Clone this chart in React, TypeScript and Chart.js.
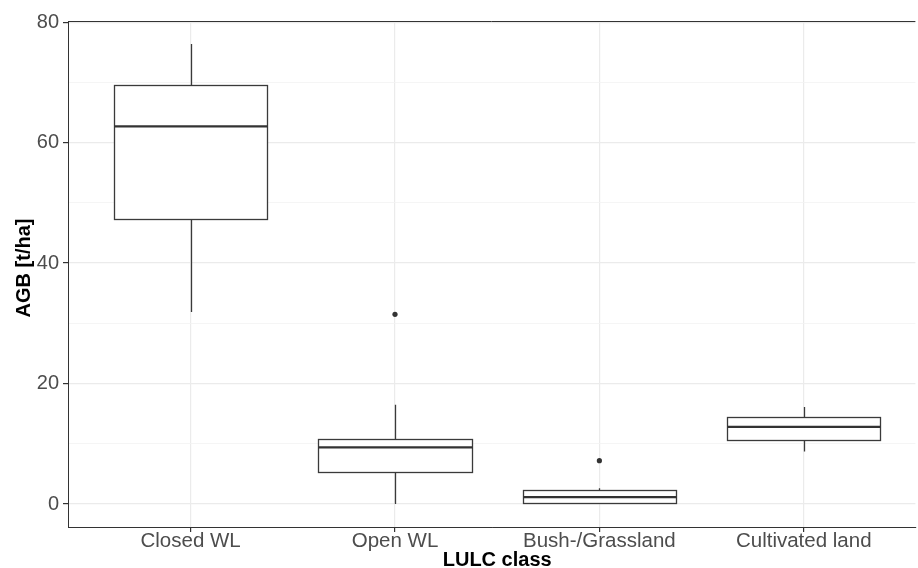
import React, { useEffect, useRef } from "react";
import { Chart, registerables } from "chart.js";

Chart.register(...registerables);

const categories = ["Closed WL", "Open WL", "Bush-/Grassland", "Cultivated land"];
const whiskerLow = [31.9, 0.0, 0.0, 8.7];
const q1 = [47.3, 5.3, 0.15, 10.7];
const median = [62.7, 9.4, 1.15, 12.8];
const q3 = [69.6, 10.8, 2.4, 14.5];
const whiskerHigh = [76.4, 16.5, 2.6, 16.1];
const outlierCategory = [2, 3];
const outlierValue = [31.5, 7.2];
const yTickValues = [0, 10, 20, 30, 40, 50, 60, 70, 80];
const yMajorTicks = [0, 20, 40, 60, 80];
const xTitle = "LULC class";
const yTitle = "AGB [t/ha]";

const FONT = "'Liberation Sans', Arial, Helvetica, sans-serif";
const INK = "#333333";

const boxPlugin = {
  id: "boxes",
  beforeDatasetsDraw(chart: any) {
    const { ctx, scales } = chart;
    const x = scales.x;
    const y = scales.y;
    const half = 0.375;
    ctx.save();
    categories.forEach((_, i) => {
      const c = i + 1;
      const xl = Math.round(x.getPixelForValue(c - half)) + 0.5;
      const xr = Math.round(x.getPixelForValue(c + half)) + 0.5;
      const xc = Math.round(x.getPixelForValue(c)) + 0.5;
      const yLo = y.getPixelForValue(whiskerLow[i]);
      const yQ1 = Math.round(y.getPixelForValue(q1[i])) + 0.5;
      const yMed = y.getPixelForValue(median[i]);
      const yQ3 = Math.round(y.getPixelForValue(q3[i])) + 0.5;
      const yHi = y.getPixelForValue(whiskerHigh[i]);
      ctx.strokeStyle = "#3a3a3a";
      ctx.lineWidth = 1.3;
      ctx.beginPath();
      ctx.moveTo(xc, yHi);
      ctx.lineTo(xc, yQ3);
      ctx.moveTo(xc, yQ1);
      ctx.lineTo(xc, yLo);
      ctx.stroke();
      ctx.fillStyle = "#ffffff";
      ctx.fillRect(xl, yQ3, xr - xl, yQ1 - yQ3);
      ctx.strokeRect(xl, yQ3, xr - xl, yQ1 - yQ3);
      ctx.strokeStyle = INK;
      ctx.lineWidth = 2.3;
      ctx.beginPath();
      ctx.moveTo(xl, yMed);
      ctx.lineTo(xr, yMed);
      ctx.stroke();
    });
    ctx.restore();
  },
  afterDraw(chart: any) {
    const { ctx, chartArea, scales } = chart;
    ctx.save();
    ctx.strokeStyle = INK;
    ctx.lineWidth = 1;
    ctx.beginPath();
    ctx.moveTo(chartArea.left, Math.round(chartArea.top) + 0.5);
    ctx.lineTo(chartArea.right, Math.round(chartArea.top) + 0.5);
    ctx.stroke();
    ctx.fillStyle = "#000000";
    ctx.font = `bold 20px ${FONT}`;
    ctx.textAlign = "center";
    ctx.textBaseline = "alphabetic";
    const cx = scales.x.getPixelForValue(2.5);
    ctx.fillText(xTitle, cx, 566);
    ctx.translate(30, (chartArea.top + chartArea.bottom) / 2 - 6);
    ctx.rotate(-Math.PI / 2);
    ctx.fillText(yTitle, 0, 0);
    ctx.restore();
  },
};

export default function App() {
  const ref = useRef<HTMLCanvasElement | null>(null);
  useEffect(() => {
    if (!ref.current) return;
    const chart = new Chart(ref.current, {
      type: "scatter",
      data: {
        datasets: [
          {
            data: outlierCategory.map((c, i) => ({ x: c, y: outlierValue[i] })),
            pointRadius: 2.6,
            pointBackgroundColor: INK,
            pointBorderWidth: 0,
            pointHoverRadius: 2.6,
          },
        ],
      },
      options: {
        animation: false,
        responsive: false,
        maintainAspectRatio: false,
        layout: { padding: { top: 21, left: 0, right: 0, bottom: 0 } },
        plugins: { legend: { display: false }, tooltip: { enabled: false } },
        scales: {
          x: {
            type: "linear",
            min: 0.4,
            max: 0.4 + 850 / 205,
            afterBuildTicks: (s: any) => {
              s.ticks = categories.map((_, i) => ({ value: i + 1 }));
            },
            afterFit: (s: any) => {
              s.height = 41;
            },
            ticks: {
              autoSkip: false,
              maxRotation: 0,
              padding: -3,
              color: "#4d4d4d",
              font: { family: FONT, size: 20.5 },
              callback: (v: any) => categories[Math.round(v) - 1] ?? "",
            },
            grid: {
              color: "#ebebeb",
              lineWidth: 1.2,
              tickColor: INK,
              tickLength: 5,
            },
            border: { color: INK, width: 1 },
          },
          y: {
            type: "linear",
            min: -3.82,
            max: 80.2,
            afterBuildTicks: (s: any) => {
              s.ticks = yTickValues.map((v) => ({ value: v }));
            },
            afterFit: (s: any) => {
              s.width = 68;
            },
            ticks: {
              autoSkip: false,
              padding: 4,
              color: "#4d4d4d",
              font: { family: FONT, size: 20 },
              callback: (v: any) => (yMajorTicks.includes(v) ? String(v) : ""),
            },
            grid: {
              color: (c: any) => (yMajorTicks.includes(c.tick?.value) ? "#ebebeb" : "#f2f2f2"),
              lineWidth: (c: any) => (yMajorTicks.includes(c.tick?.value) ? 1.2 : 0.8),
              tickColor: (c: any) => (yMajorTicks.includes(c.tick?.value) ? INK : "rgba(0,0,0,0)"),
              tickLength: 5,
            },
            border: { color: INK, width: 1 },
          },
        },
      },
      plugins: [boxPlugin],
    });
    return () => chart.destroy();
  }, []);
  return (
    <div style={{ position: "fixed", left: 0, top: 0, width: 918, height: 568, background: "#fff" }}>
      <canvas ref={ref} width={918} height={568} style={{ display: "block", width: 918, height: 568 }} />
    </div>
  );
}
